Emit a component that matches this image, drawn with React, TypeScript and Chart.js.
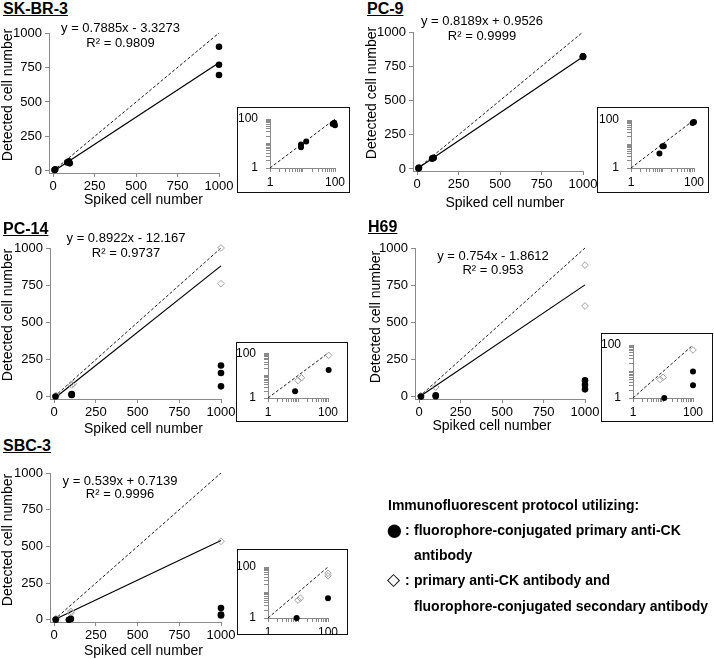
import React, { useEffect, useRef } from "react";
import { Chart, registerables } from "chart.js";
Chart.register(...registerables);

type Pt = [number, number];
const FONT = "'Liberation Sans', Arial, Helvetica, sans-serif";
const AXIS_GRAY = "#8a8a8a";

// ---------------- data ----------------
const panelNames = ["SK-BR-3", "PC-9", "PC-14", "H69", "SBC-3"];
const xAxisTitle = "Spiked cell number";
const yAxisTitle = "Detected cell number";
const mainTicks = [0, 250, 500, 750, 1000];
const insetTicks = [1, 2, 3, 4, 5, 6, 7, 8, 9, 10, 20, 30, 40, 50, 60, 70, 80, 90, 100];
const insetLabelTicks = [1, 100];
const identityLine: Pt[] = [[0, 0], [1000, 1000]];
const insetIdentityLine: Pt[] = [[1, 1], [100, 100]];

const skbr3Filled: Pt[] = [[9, 7], [9, 9], [13, 12], [85, 62], [95, 70], [100, 55], [1000, 900], [1000, 770], [1000, 695]];
const skbr3Open: Pt[] = [];
const pc9Filled: Pt[] = [[8, 4], [10, 8], [11, 8], [90, 75], [95, 80], [100, 82], [1000, 818], [1000, 822], [1000, 820]];
const pc9Open: Pt[] = [];
const pc14Filled: Pt[] = [[8, 2], [105, 18], [105, 15], [105, 12], [1000, 210], [1000, 160], [1000, 70]];
const pc14Open: Pt[] = [[10, 6], [13, 8], [105, 80], [115, 88], [1000, 1000], [1000, 760]];
const h69Filled: Pt[] = [[11, 1], [100, 3], [100, 10], [1000, 110], [1000, 80], [1000, 50]];
const h69Open: Pt[] = [[8, 5], [10, 6], [100, 65], [1000, 885], [1000, 610]];
const sbc3Filled: Pt[] = [[9, 1], [88, 0], [100, 6], [1000, 80], [1000, 35], [1000, 30]];
const sbc3Open: Pt[] = [[10, 5], [12, 6], [100, 45], [100, 57], [1000, 535]];

const filledSeries = [skbr3Filled, pc9Filled, pc14Filled, h69Filled, sbc3Filled];
const openSeries = [skbr3Open, pc9Open, pc14Open, h69Open, sbc3Open];
const slopes = [0.7885, 0.8189, 0.8922, 0.754, 0.539];
const intercepts = [-3.3273, 0.9526, -12.167, -1.8612, 0.7139];
const eqLabels = ["y = 0.7885x - 3.3273", "y = 0.8189x + 0.9526", "y = 0.8922x - 12.167", "y = 0.754x - 1.8612", "y = 0.539x + 0.7139"];
const r2Labels = ["R² = 0.9809", "R² = 0.9999", "R² = 0.9737", "R² = 0.953", "R² = 0.9996"];

const legendHeader = "Immunofluorescent protocol utilizing:";
const legendFilledText = ["fluorophore-conjugated primary anti-CK", "antibody"];
const legendOpenText = ["primary anti-CK antibody and", "fluorophore-conjugated secondary antibody"];

// ---------------- layout ----------------
type MainLayout = { cx: number; cy: number; ch: number; left: number; right: number; top: number; bottom: number };
const mainLayouts: MainLayout[] = [
  { cx: -1, cy: 19, ch: 188, left: 49, right: 219, top: 33, bottom: 173 },
  { cx: 363, cy: 18, ch: 192, left: 413, right: 583, top: 32, bottom: 171 },
  { cx: -1, cy: 234, ch: 202, left: 50, right: 221, top: 248, bottom: 399 },
  { cx: 366, cy: 234, ch: 199, left: 415, right: 585, top: 248, bottom: 399 },
  { cx: -1, cy: 459, ch: 199, left: 50, right: 221, top: 473, bottom: 622 },
];
type InsetLayout = { bx: number; by: number; bw: number; bh: number; left: number; right: number; top: number; bottom: number };
const insetLayouts: InsetLayout[] = [
  { bx: 237, by: 107, bw: 113, bh: 86, left: 270, right: 335, top: 119, bottom: 168 },
  { bx: 597, by: 107, bw: 112, bh: 86, left: 631, right: 694, top: 120, bottom: 168 },
  { bx: 236, by: 342, bw: 112, bh: 80, left: 268, right: 328, top: 346, bottom: 398 },
  { bx: 601, by: 333, bw: 112, bh: 89, left: 633, right: 693, top: 345, bottom: 398 },
  { bx: 237, by: 549, bw: 111, bh: 86, left: 268, right: 328, top: 567, bottom: 618 },
];
const titlePos: Pt[] = [[3, 8.5], [367, 9], [3, 229], [368, 226.5], [3, 446]];
const eqPos: [number, number, number][] = [
  [120.5, 27, 42], [482, 20, 35], [126, 237, 252], [493, 255, 269], [120, 480, 493],
];
const xTitlePos: Pt[] = [[143.5, 199], [505, 202], [143.5, 428], [492, 425], [143.5, 650]];
const yTitlePos: Pt[] = [[7, 95], [371, 92.5], [7, 315], [374.5, 317], [7, 540]];

const pts = (a: Pt[]) => a.map(([x, y]) => ({ x, y }));

function buildMain(i: number, L: MainLayout): any {
  const cw = L.right + 17 - L.cx;
  const canvasBottom = L.cy + L.ch;
  const m = slopes[i];
  const b = intercepts[i];
  const tickFont = { family: FONT, size: 13 };
  return {
    width: cw,
    config: {
      type: "scatter",
      data: {
        datasets: [
          { data: pts(filledSeries[i]), pointStyle: "circle", pointRadius: 3.3, backgroundColor: "#000", borderColor: "#000", borderWidth: 0, clip: false },
          { data: pts(openSeries[i]), pointStyle: "rectRot", pointRadius: 3.4, backgroundColor: "rgba(255,255,255,0)", borderColor: "#a0a0a0", borderWidth: 1, clip: false },
          { data: [{ x: 0, y: b }, { x: 1000, y: m * 1000 + b }], showLine: true, borderColor: "#000", borderWidth: 1.2, pointRadius: 0, clip: false },
          { data: pts(identityLine), showLine: true, borderColor: "#000", borderWidth: 0.9, borderDash: [3, 2], pointRadius: 0, clip: false },
        ],
      },
      options: {
        animation: false,
        responsive: false,
        events: [],
        plugins: { legend: { display: false }, tooltip: { enabled: false } },
        layout: { padding: { top: L.top - L.cy, right: L.cx + cw - L.right, left: 0, bottom: 0 } },
        scales: {
          x: {
            type: "linear",
            min: -25,
            max: 1000,
            afterBuildTicks: (s: any) => { s.ticks = mainTicks.map((v) => ({ value: v })); },
            afterFit: (s: any) => { s.height = canvasBottom - L.bottom; },
            ticks: { color: "#000", font: tickFont, padding: 2, maxRotation: 0, autoSkip: false, callback: (v: any) => String(v) },
            grid: { drawOnChartArea: false, tickLength: 4, color: AXIS_GRAY },
            border: { color: AXIS_GRAY },
          },
          y: {
            type: "linear",
            min: -15,
            max: 1000,
            afterBuildTicks: (s: any) => { s.ticks = mainTicks.map((v) => ({ value: v })); },
            afterFit: (s: any) => { s.width = L.left - L.cx; },
            ticks: { color: "#000", font: tickFont, padding: 3, autoSkip: false, callback: (v: any) => String(v) },
            grid: { drawOnChartArea: false, tickLength: 4, color: AXIS_GRAY },
            border: { color: AXIS_GRAY },
          },
        },
      },
    },
  };
}

function buildInset(i: number, L: InsetLayout): any {
  const cy = L.by - 4;
  const canvasBottom = L.by + L.bh;
  const keep = (a: Pt[]) => a.filter(([x, y]) => x <= 150 && y > 0);
  const tickFont = { family: FONT, size: 12 };
  const cb = (v: any) => (insetLabelTicks.includes(Number(v)) ? String(v) : "");
  return {
    cy,
    height: canvasBottom - cy,
    config: {
      type: "scatter",
      data: {
        datasets: [
          { data: pts(keep(filledSeries[i])), pointStyle: "circle", pointRadius: 3, backgroundColor: "#000", borderColor: "#000", borderWidth: 0, clip: false },
          { data: pts(keep(openSeries[i])), pointStyle: "rectRot", pointRadius: 3.3, backgroundColor: "rgba(255,255,255,0)", borderColor: "#a0a0a0", borderWidth: 1, clip: false },
          { data: pts(insetIdentityLine), showLine: true, borderColor: "#000", borderWidth: 0.9, borderDash: [3, 2], pointRadius: 0, clip: false },
        ],
      },
      options: {
        animation: false,
        responsive: false,
        events: [],
        plugins: { legend: { display: false }, tooltip: { enabled: false } },
        layout: { padding: { top: L.top - cy, right: L.bx + L.bw - L.right, left: 0, bottom: 0 } },
        scales: {
          x: {
            type: "logarithmic",
            min: 1,
            max: 100,
            afterBuildTicks: (s: any) => { s.ticks = insetTicks.map((v) => ({ value: v })); },
            afterFit: (s: any) => { s.height = canvasBottom - L.bottom; },
            ticks: { color: "#000", font: tickFont, padding: 3, maxRotation: 0, autoSkip: false, callback: cb },
            grid: { drawOnChartArea: false, tickLength: 4, color: AXIS_GRAY },
            border: { color: AXIS_GRAY },
          },
          y: {
            type: "logarithmic",
            min: 1,
            max: 100,
            afterBuildTicks: (s: any) => { s.ticks = insetTicks.map((v) => ({ value: v })); },
            afterFit: (s: any) => { s.width = L.left - L.bx; },
            ticks: { color: "#000", font: tickFont, padding: 8, autoSkip: false, callback: cb },
            grid: { drawOnChartArea: false, tickLength: 4, color: AXIS_GRAY },
            border: { color: AXIS_GRAY },
          },
        },
      },
    },
  };
}

function ChartCanvas({ config, left, top, width, height }: { config: any; left: number; top: number; width: number; height: number }) {
  const ref = useRef<HTMLCanvasElement>(null);
  useEffect(() => {
    const chart = new Chart(ref.current as HTMLCanvasElement, config);
    return () => chart.destroy();
  }, []);
  return (
    <canvas
      ref={ref}
      width={width}
      height={height}
      style={{ position: "absolute", left, top, width, height }}
    />
  );
}

export default function App() {
  const textBase: React.CSSProperties = { position: "absolute", fontFamily: FONT, color: "#000", whiteSpace: "nowrap" };
  const legendText: React.CSSProperties = { ...textBase, fontSize: 14, lineHeight: "16px", fontWeight: "bold" };
  return (
    <div style={{ position: "absolute", left: 0, top: 0, width: 714, height: 659, background: "#fff", overflow: "hidden" }}>
      {mainLayouts.map((L, i) => {
        const b = buildMain(i, L);
        return <ChartCanvas key={"m" + i} config={b.config} left={L.cx} top={L.cy} width={b.width} height={L.ch} />;
      })}
      {insetLayouts.map((L, i) => {
        const b = buildInset(i, L);
        return (
          <React.Fragment key={"i" + i}>
            <div style={{ position: "absolute", left: L.bx, top: L.by, width: L.bw, height: L.bh, border: "1.5px solid #111", boxSizing: "border-box", background: "#fff" }} />
            <ChartCanvas config={b.config} left={L.bx} top={b.cy} width={L.bw} height={b.height} />
          </React.Fragment>
        );
      })}
      {panelNames.map((name, i) => (
        <div key={"t" + i} style={{ ...textBase, left: titlePos[i][0], top: titlePos[i][1] - 9, fontSize: 16, lineHeight: "18px", fontWeight: "bold", textDecoration: "underline" }}>
          {name}
        </div>
      ))}
      {xTitlePos.map((p, i) => (
        <div key={"xt" + i} style={{ ...textBase, left: p[0] - 100, width: 200, textAlign: "center", top: p[1] - 8, fontSize: 14, lineHeight: "16px" }}>{xAxisTitle}</div>
      ))}
      {yTitlePos.map((p, i) => (
        <div key={"yt" + i} style={{ ...textBase, left: p[0] - 100, width: 200, textAlign: "center", top: p[1] - 8, fontSize: 14, lineHeight: "16px", transform: "rotate(-90deg)", transformOrigin: "50% 50%" }}>{yAxisTitle}</div>
      ))}
      {eqLabels.map((eq, i) => (
        <React.Fragment key={"e" + i}>
          <div style={{ ...textBase, left: eqPos[i][0] - 100, width: 200, textAlign: "center", top: eqPos[i][1] - 7.5, fontSize: 13, lineHeight: "15px" }}>{eq}</div>
          <div style={{ ...textBase, left: eqPos[i][0] - 100, width: 200, textAlign: "center", top: eqPos[i][2] - 7.5, fontSize: 13, lineHeight: "15px" }}>{r2Labels[i]}</div>
        </React.Fragment>
      ))}
      <div style={{ ...legendText, left: 388, top: 505 - 8 }}>{legendHeader}</div>
      <div style={{ ...textBase, left: 385, top: 530 - 18, fontSize: 31, lineHeight: "36px" }}>●</div>
      <div style={{ ...legendText, left: 405, top: 530 - 8 }}>:</div>
      <div style={{ ...legendText, left: 414, top: 530 - 8 }}>{legendFilledText[0]}</div>
      <div style={{ ...legendText, left: 414, top: 555 - 8 }}>{legendFilledText[1]}</div>
      <div style={{ ...textBase, left: 387, top: 580 - 10, fontSize: 17, lineHeight: "20px" }}>◇</div>
      <div style={{ ...legendText, left: 405, top: 580 - 8 }}>:</div>
      <div style={{ ...legendText, left: 414, top: 580 - 8 }}>{legendOpenText[0]}</div>
      <div style={{ ...legendText, left: 414, top: 606 - 8 }}>{legendOpenText[1]}</div>
    </div>
  );
}
